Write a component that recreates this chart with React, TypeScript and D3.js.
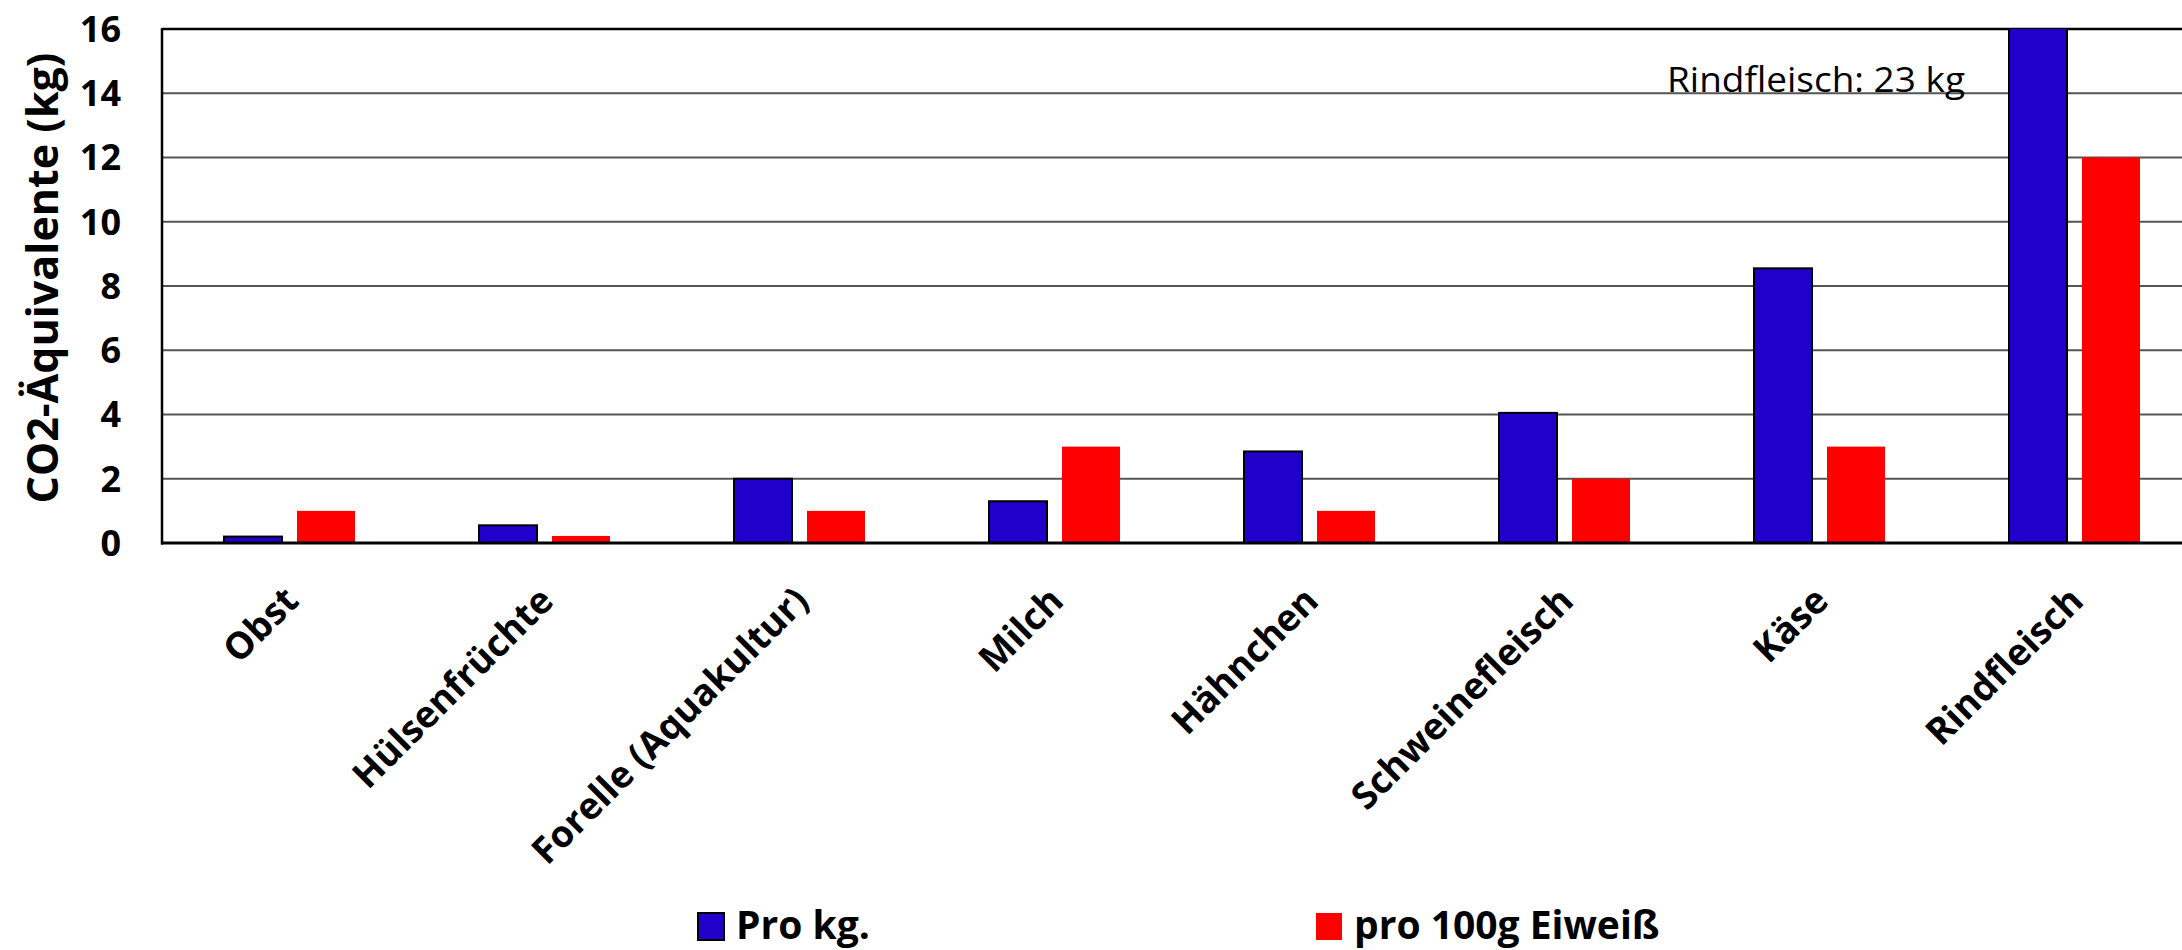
import React from "react";
import * as d3 from "d3";

// Food categories shown on the x axis
const categories = [
  "Obst",
  "Hülsenfrüchte",
  "Forelle (Aquakultur)",
  "Milch",
  "Hähnchen",
  "Schweinefleisch",
  "Käse",
  "Rindfleisch",
];

// CO2 equivalents per kg of food
const proKg = [0.2, 0.55, 2.0, 1.3, 2.85, 4.05, 8.55, 23];
// CO2 equivalents per 100 g of protein
const pro100gEiweiss = [1.0, 0.22, 1.0, 3.0, 1.0, 2.0, 3.0, 12.0];

const seriesKeys = ["proKg", "pro100gEiweiss"];
const seriesLabels = ["Pro kg.", "pro 100g Eiweiß"];
const seriesColors = ["#2200CC", "#FF0000"];
const yTicks = [0, 2, 4, 6, 8, 10, 12, 14, 16];
const yTitle = "CO2-Äquivalente (kg)";
const note = "Rindfleisch: 23 kg";

const W = 2182;
const H = 950;
const FONT = "'Open Sans', 'DejaVu Sans', sans-serif";

export default function App() {
  const left = 162;
  const right = 2202;
  const top = 29;
  const bottom = 543;

  const x0 = d3.scaleBand<string>().domain(categories).range([left, right]).paddingInner(0).paddingOuter(0);
  const x1 = d3.scaleBand<string>().domain(seriesKeys).range([-65.5, 65.5]).paddingInner(0.2055).paddingOuter(0);
  const y = d3.scaleLinear().domain([0, 16]).range([bottom, top]);

  const values: Record<string, number[]> = { proKg, pro100gEiweiss };

  const rindX = (x0("Rindfleisch") ?? 0) + x0.bandwidth() / 2 + (x1("proKg") ?? 0);

  return (
    <svg width={W} height={H} style={{ position: "absolute", left: 0, top: 0, background: "#fff" }} fontFamily={FONT}>
      <defs>
        <clipPath id="plotClip">
          <rect x={left} y={top} width={right - left} height={bottom - top} />
        </clipPath>
      </defs>
      <rect x={0} y={0} width={W} height={H} fill="#fff" />

      {/* horizontal gridlines */}
      {yTicks.filter((t) => t > 0 && t < 16).map((t) => (
        <line key={t} x1={left} x2={right} y1={y(t)} y2={y(t)} stroke="#555" strokeWidth={2} />
      ))}
      <line x1={left} x2={right} y1={y(16)} y2={y(16)} stroke="#000" strokeWidth={2.5} />

      {/* annotation for the clipped beef bar */}
      <text x={rindX - 44} y={y(14) - 1} textAnchor="end" fontSize={34} fill="#000" textLength={298} lengthAdjust="spacingAndGlyphs">
        {note}
      </text>

      {/* bars */}
      <g clipPath="url(#plotClip)">
        {categories.map((c, i) => (
          <g key={c} transform={`translate(${(x0(c) ?? 0) + x0.bandwidth() / 2},0)`}>
            {seriesKeys.map((k, si) => {
              const v = values[k][i];
              const yy = y(v);
              return (
                <rect
                  key={k}
                  x={x1(k)}
                  y={yy}
                  width={x1.bandwidth()}
                  height={bottom - yy}
                  fill={seriesColors[si]}
                  stroke={si === 0 ? "#000" : "none"}
                  strokeWidth={si === 0 ? 2 : 0}
                />
              );
            })}
          </g>
        ))}
      </g>

      {/* axes */}
      <line x1={left} x2={left} y1={top - 1} y2={bottom + 1.5} stroke="#000" strokeWidth={2.5} />
      <line x1={left - 1} x2={right} y1={bottom} y2={bottom} stroke="#000" strokeWidth={3} />

      {/* y tick labels */}
      {yTicks.map((t) => (
        <text key={t} x={121} y={y(t)} dy="0.36em" textAnchor="end" fontSize={36} fontWeight={700} fill="#000">
          {t}
        </text>
      ))}

      {/* y axis title */}
      <text
        transform={`translate(43,278) rotate(-90)`}
        textAnchor="middle"
        dy="0.36em"
        fontSize={43}
        fontWeight={700}
        fill="#000"
      >
        {yTitle}
      </text>

      {/* x category labels */}
      {categories.map((c) => (
        <text
          key={c}
          transform={`translate(${(x0(c) ?? 0) + x0.bandwidth() / 2 + 11},${bottom + 60}) rotate(-45)`}
          textAnchor="end"
          fontSize={37}
          fontWeight={700}
          fill="#000"
        >
          {c}
        </text>
      ))}

      {/* legend */}
      {seriesLabels.map((lab, i) => {
        const lx = i === 0 ? 698 : 1316;
        return (
          <g key={lab}>
            <rect
              x={lx}
              y={913}
              width={26}
              height={27}
              fill={seriesColors[i]}
              stroke={i === 0 ? "#000" : "none"}
              strokeWidth={i === 0 ? 2 : 0}
            />
            <text x={lx + 38} y={939} fontSize={39} fontWeight={700} fill="#000">
              {lab}
            </text>
          </g>
        );
      })}
    </svg>
  );
}
